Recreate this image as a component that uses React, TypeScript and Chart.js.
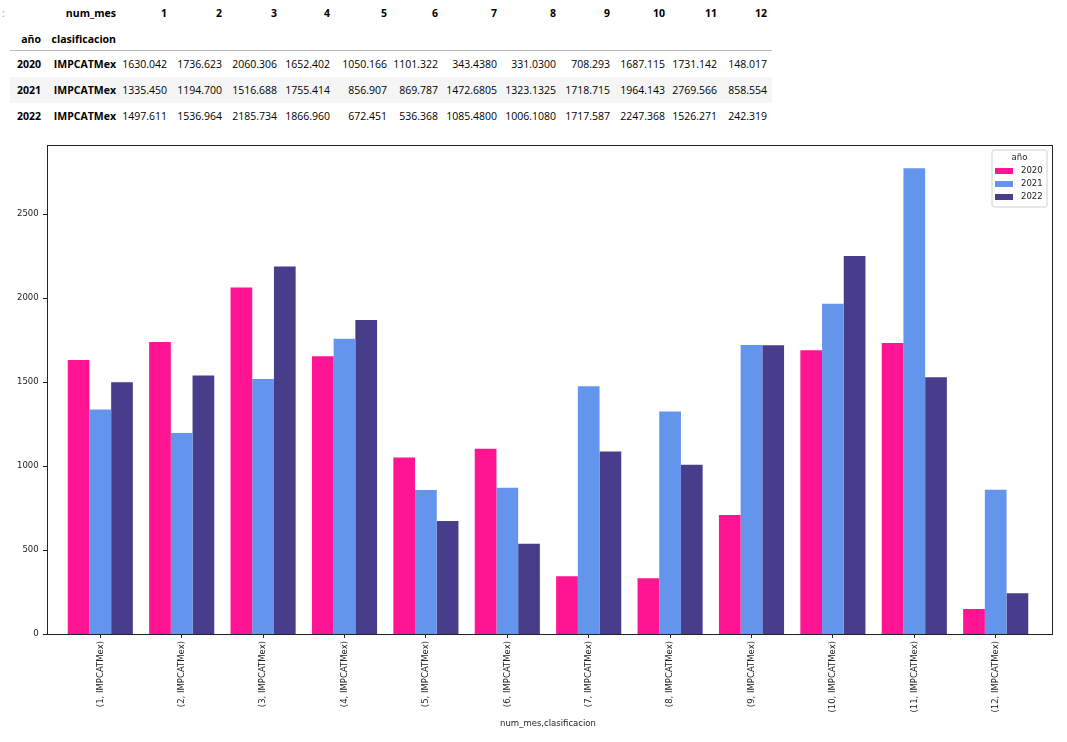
import React, { useEffect, useRef } from "react";
import { Chart, registerables } from "chart.js";

Chart.register(...registerables);

const months = ["1", "2", "3", "4", "5", "6", "7", "8", "9", "10", "11", "12"];
const categoryLabels = months.map((m) => `(${m}, IMPCATMex)`);
const years = ["2020", "2021", "2022"];
const values2020 = [1630.042, 1736.623, 2060.306, 1652.402, 1050.166, 1101.322, 343.438, 331.03, 708.293, 1687.115, 1731.142, 148.017];
const values2021 = [1335.45, 1194.7, 1516.688, 1755.414, 856.907, 869.787, 1472.6805, 1323.1325, 1718.715, 1964.143, 2769.566, 858.554];
const values2022 = [1497.611, 1536.964, 2185.734, 1866.96, 672.451, 536.368, 1085.48, 1006.108, 1717.587, 2247.368, 1526.271, 242.319];
const table2020 = ["1630.042", "1736.623", "2060.306", "1652.402", "1050.166", "1101.322", "343.4380", "331.0300", "708.293", "1687.115", "1731.142", "148.017"];
const table2021 = ["1335.450", "1194.700", "1516.688", "1755.414", "856.907", "869.787", "1472.6805", "1323.1325", "1718.715", "1964.143", "2769.566", "858.554"];
const table2022 = ["1497.611", "1536.964", "2185.734", "1866.960", "672.451", "536.368", "1085.4800", "1006.1080", "1717.587", "2247.368", "1526.271", "242.319"];
const yTicks = [0, 500, 1000, 1500, 2000, 2500];
const colors = ["#FF1493", "#6495ED", "#483D8B"];
const classification = "IMPCATMex";

const colRights = [41, 116, 167, 222, 277, 330, 387, 438, 497, 556, 610, 665, 717, 767];
const rowCenters = [13, 39, 64, 90, 116];

const TFONT = "'Open Sans', 'Noto Sans', sans-serif";
const CFONT = "'DejaVu Sans', sans-serif";
const FS = 8.5;

// axes frame extends beyond the category band (matplotlib x-limits)
const FRAME_LEFT = 47;
const FRAME_RIGHT = 1052;

function Cell({ text, right, cy, bold }: { text: string; right: number; cy: number; bold?: boolean }) {
  return (
    <span
      style={{
        position: "absolute",
        right: 1067 - right,
        top: cy - 7,
        lineHeight: "14px",
        fontSize: "10.5px",
        fontFamily: TFONT,
        fontWeight: bold ? 700 : 400,
        color: "#000",
        whiteSpace: "nowrap",
      }}
    >
      {text}
    </span>
  );
}

const framePlugin = {
  id: "mplFrame",
  afterDraw(chart: any) {
    const ctx = chart.ctx;
    const a = chart.chartArea;
    const left = FRAME_LEFT;
    const right = FRAME_RIGHT;
    const top = Math.round(a.top);
    const bottom = Math.round(a.bottom);
    ctx.save();
    ctx.strokeStyle = "#222";
    ctx.lineWidth = 1;
    ctx.strokeRect(left + 0.5, top + 0.5, right - left, bottom - top);
    // y tick marks
    const ys = chart.scales.y;
    ctx.beginPath();
    yTicks.forEach((v) => {
      const py = Math.round(ys.getPixelForValue(v)) + 0.5;
      ctx.moveTo(left - 4, py);
      ctx.lineTo(left, py);
    });
    ctx.stroke();
    // legend box
    const w = 55, h = 57;
    const x = right - 5 - w;
    const y = top + 5;
    ctx.fillStyle = "rgba(255,255,255,0.8)";
    ctx.strokeStyle = "#d0d0d0";
    ctx.beginPath();
    const r = 2;
    ctx.moveTo(x + r, y);
    ctx.lineTo(x + w - r, y);
    ctx.quadraticCurveTo(x + w, y, x + w, y + r);
    ctx.lineTo(x + w, y + h - r);
    ctx.quadraticCurveTo(x + w, y + h, x + w - r, y + h);
    ctx.lineTo(x + r, y + h);
    ctx.quadraticCurveTo(x, y + h, x, y + h - r);
    ctx.lineTo(x, y + r);
    ctx.quadraticCurveTo(x, y, x + r, y);
    ctx.closePath();
    ctx.fill();
    ctx.stroke();
    ctx.font = `${FS}px ${CFONT}`;
    ctx.fillStyle = "#222";
    ctx.textBaseline = "middle";
    ctx.textAlign = "center";
    ctx.fillText("año", x + w / 2, y + 8);
    ctx.textAlign = "left";
    chart.data.datasets.forEach((ds: any, i: number) => {
      const cy = y + 21 + i * 13;
      ctx.fillStyle = ds.backgroundColor;
      ctx.fillRect(x + 3, cy - 3, 18, 6);
      ctx.fillStyle = "#222";
      ctx.fillText(ds.label, x + 29, cy);
    });
    ctx.restore();
  },
};

export default function App() {
  const ref = useRef<HTMLCanvasElement>(null);

  useEffect(() => {
    document.body.style.margin = "0";
    const canvas = ref.current!;
    const series = [values2020, values2021, values2022];
    const chart = new Chart(canvas, {
      type: "bar",
      data: {
        labels: categoryLabels,
        datasets: years.map((y, i) => ({
          label: y,
          data: series[i],
          backgroundColor: colors[i],
          borderWidth: 0,
          categoryPercentage: 0.8,
          barPercentage: 1.0,
        })),
      },
      options: {
        animation: false,
        responsive: false,
        maintainAspectRatio: false,
        layout: { padding: { top: 5, right: 30.6, left: 0, bottom: 0 } },
        plugins: { legend: { display: false }, tooltip: { enabled: false } },
        scales: {
          x: {
            offset: true,
            grid: { display: true, drawOnChartArea: false, drawTicks: true, tickLength: 4, color: "#222", offset: false },
            border: { display: false },
            ticks: { minRotation: 90, maxRotation: 90, autoSkip: false, padding: 3, color: "#222", font: { family: CFONT, size: FS } },
            title: { display: true, text: "num_mes,clasificacion", color: "#222", font: { family: CFONT, size: FS }, padding: { top: 0, bottom: 13 } },
            afterFit(scale: any) {
              scale.height = 108;
              scale.paddingLeft = 0;
              scale.paddingRight = 0;
            },
          },
          y: {
            min: 0,
            max: 2908,
            grid: { display: false, drawOnChartArea: false, drawTicks: false },
            border: { display: false },
            ticks: {
              padding: 21,
              color: "#222",
              font: { family: CFONT, size: FS },
              callback: (v: any) => String(v),
            },
            afterBuildTicks(scale: any) {
              scale.ticks = yTicks.map((v) => ({ value: v }));
            },
            afterFit(scale: any) {
              scale.width = 59.6;
              scale.paddingTop = 0;
              scale.paddingBottom = 0;
            },
          },
        },
      },
      plugins: [framePlugin],
    });
    return () => chart.destroy();
  }, []);

  const headerRow1 = ["", "num_mes", ...months];
  const headerRow2 = ["año", "clasificacion"];
  const dataRows = [table2020, table2021, table2022];

  return (
    <div style={{ position: "relative", width: 1067, height: 742, background: "#fff", overflow: "hidden" }}>
      <span style={{ position: "absolute", left: 2, top: 6, fontSize: "10px", fontFamily: TFONT, color: "#999", lineHeight: "14px" }}>:</span>
      <div style={{ position: "absolute", left: 10, top: 50, width: 762, height: 1, background: "#bdbdbd" }} />
      <div style={{ position: "absolute", left: 10, top: 77, width: 762, height: 26, background: "#f5f5f5" }} />
      {headerRow1.map((t, j) => (t ? <Cell key={"h1" + j} text={t} right={colRights[j]} cy={rowCenters[0]} bold /> : null))}
      {headerRow2.map((t, j) => (
        <Cell key={"h2" + j} text={t} right={colRights[j]} cy={rowCenters[1]} bold />
      ))}
      {dataRows.map((row, i) => (
        <React.Fragment key={"r" + i}>
          <Cell text={years[i]} right={colRights[0]} cy={rowCenters[2 + i]} bold />
          <Cell text={classification} right={colRights[1]} cy={rowCenters[2 + i]} bold />
          {row.map((v, j) => (
            <Cell key={j} text={v} right={colRights[2 + j]} cy={rowCenters[2 + i]} />
          ))}
        </React.Fragment>
      ))}
      <canvas ref={ref} width={1067} height={602} style={{ position: "absolute", left: 0, top: 140, width: 1067, height: 602 }} />
    </div>
  );
}
